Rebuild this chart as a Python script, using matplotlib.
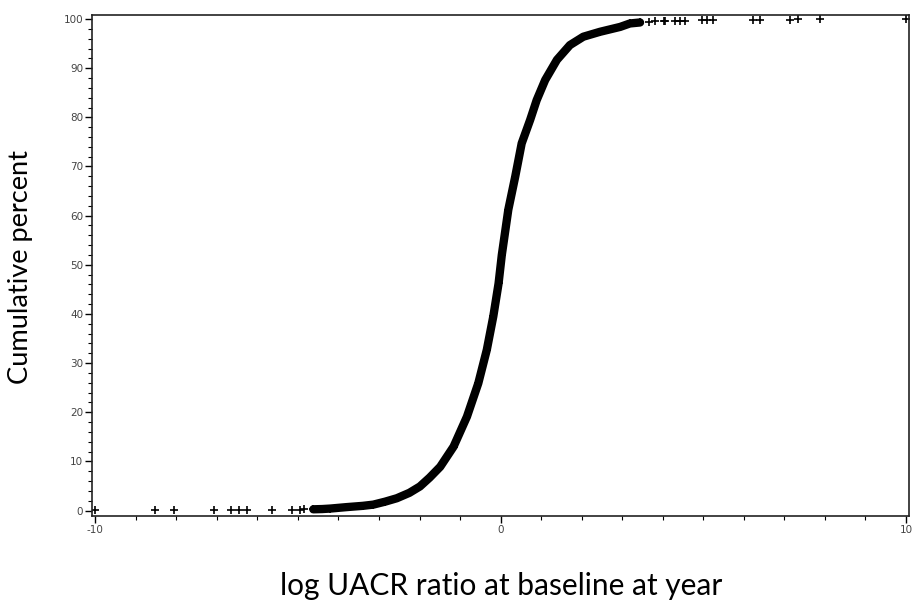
import numpy as np
import matplotlib.pyplot as plt
from matplotlib.ticker import MultipleLocator

plt.rcParams['axes.unicode_minus'] = False

# Cumulative distribution of log UACR ratio

# sparse lower tail, one marker per subject
low_x = [-10.0, -8.52, -8.05, -7.08, -6.65, -6.45, -6.26, -5.64, -5.15, -4.94, -4.84]
low_y = [0.02, 0.04, 0.06, 0.08, 0.10, 0.12, 0.14, 0.16, 0.18, 0.20, 0.22]

# dense middle part, markers overlap into a solid band
mid_x = [-4.62, -4.40, -4.20, -3.79, -3.40, -3.14, -2.85, -2.56, -2.25, -1.99, -1.75,
         -1.49, -1.16, -0.83, -0.55, -0.34, -0.18, -0.05, 0.03, 0.19, 0.36, 0.52,
         0.73, 0.89, 1.10, 1.39, 1.71, 2.04, 2.45, 2.95, 3.19, 3.44]
mid_y = [0.25, 0.3, 0.4, 0.7, 0.95, 1.2, 1.8, 2.5, 3.6, 4.9, 6.7,
         8.9, 13.0, 19.1, 25.9, 32.7, 39.5, 46.2, 52.0, 61.2, 67.9, 74.7,
         79.5, 83.5, 87.6, 91.7, 94.7, 96.4, 97.4, 98.4, 99.1, 99.3]

# sparse upper tail
up_x = [3.65, 3.81, 4.02, 4.06, 4.30, 4.43, 4.55, 4.96, 5.08, 5.25, 6.23, 6.40,
        7.14, 7.34, 7.89, 10.0]
up_y = [99.45, 99.5, 99.55, 99.58, 99.62, 99.66, 99.7, 99.74, 99.77, 99.8, 99.83,
        99.86, 99.9, 99.93, 99.96, 100.0]

fig = plt.figure(figsize=(9.13, 6.04), dpi=100)
ax = fig.add_axes([0.101, 0.145, 0.8946, 0.830])

mk = dict(marker='+', color='black', markersize=6, markeredgewidth=1.2, linestyle='none')
ax.plot(mid_x, mid_y, color='black', lw=6, solid_capstyle='round')
ax.plot(low_x, low_y, **mk)
ax.plot(mid_x, mid_y, **mk)
ax.plot(up_x, up_y, **mk)

ax.set_xlim(-10.074, 10.074)
ax.set_ylim(-1.2, 100.8)
ax.xaxis.set_major_locator(MultipleLocator(10))
ax.xaxis.set_minor_locator(MultipleLocator(1))
ax.yaxis.set_major_locator(MultipleLocator(10))
ax.yaxis.set_minor_locator(MultipleLocator(2))
ax.tick_params(which='major', length=5, width=1, direction='out',
               labelsize=7.5, labelcolor='#444444', pad=1.5)
ax.tick_params(which='minor', length=3, width=0.8, direction='out')
for s in ax.spines.values():
    s.set_linewidth(1.2)
    s.set_color('#222222')

ax.set_xlabel('log UACR ratio at baseline at year', fontsize=21.5, family='Lato')
ax.set_ylabel('Cumulative percent', fontsize=19.6, family='Lato')
ax.xaxis.set_label_coords(0.5005, -0.110)
ax.yaxis.set_label_coords(-0.0725, 0.497)

plt.savefig('out.png', dpi=100)
